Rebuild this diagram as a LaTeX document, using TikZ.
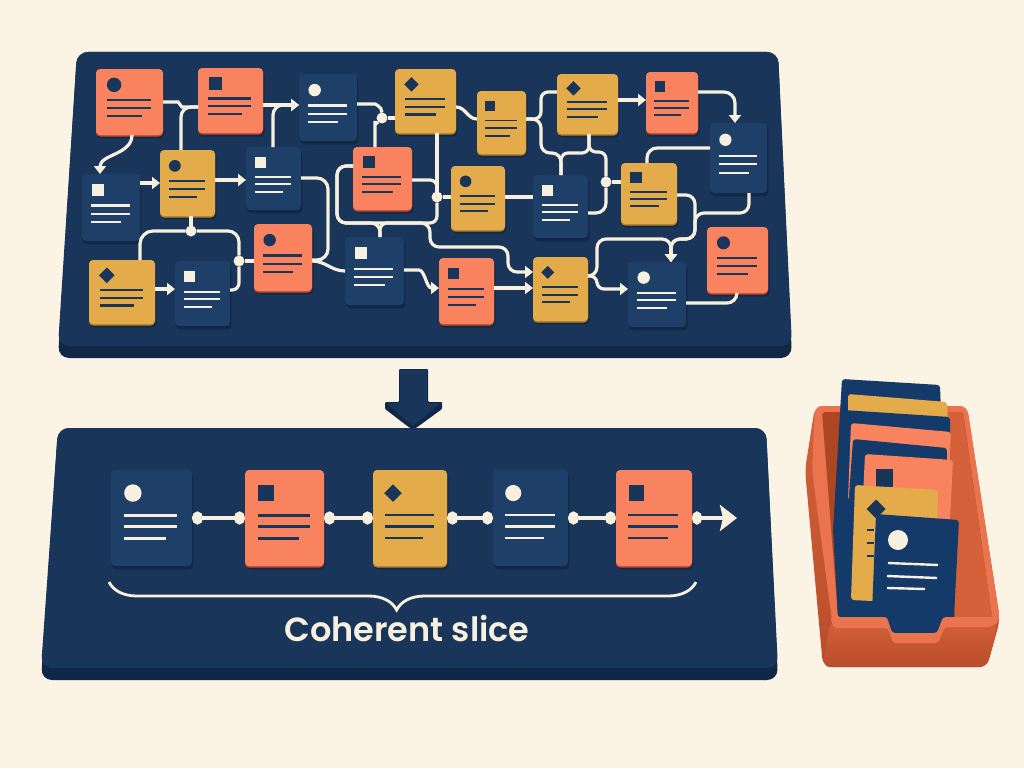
\documentclass[tikz,border=0pt]{standalone}
\usepackage{fontspec}
\newfontfamily\slicefont{Poppins SemiBold}
\usetikzlibrary{shapes.geometric,arrows.meta,shadows,decorations.pathreplacing}

\definecolor{paper}{HTML}{FBF3E4}
\definecolor{cream}{HTML}{F8F0DE}
\definecolor{panelnavy}{HTML}{19365A}
\definecolor{paneldark}{HTML}{102746}
\definecolor{navyfill}{HTML}{1D3F68}
\definecolor{navyedge}{HTML}{10264A}
\definecolor{redfill}{HTML}{F9835F}
\definecolor{rededge}{HTML}{C8482E}
\definecolor{yellowfill}{HTML}{E3AB49}
\definecolor{yellowedge}{HTML}{B5812A}
\definecolor{traynavy}{HTML}{133A69}
\definecolor{trayrim}{HTML}{EA7450}
\definecolor{trayface}{HTML}{D2603A}
\definecolor{traylow}{HTML}{B94D2A}
\definecolor{traywall}{HTML}{AD4722}
\definecolor{trayside}{HTML}{D5613B}
\colorlet{navyink}{cream}
\colorlet{redink}{panelnavy}
\colorlet{yellowink}{panelnavy}

\begin{document}
\begin{tikzpicture}[x=1pt,y=-1pt,
    card/.style={rectangle,inner sep=0pt,outer sep=0pt,rounded corners=4pt,
      general shadow={fill=black,opacity=.22,shadow xshift=1.5pt,shadow yshift=-3.5pt}},
    navycard/.style={card,fill=navyfill,general shadow={fill=navyedge,shadow yshift=-1.5pt}},
    redcard/.style={card,fill=redfill,general shadow={fill=rededge,shadow yshift=-1.5pt}},
    yellowcard/.style={card,fill=yellowfill,general shadow={fill=yellowedge,shadow yshift=-1.5pt}},
    glyph/.style={inner sep=0pt,outer sep=0pt},
    circlemark/.style={glyph,circle,minimum size=\marksize pt},
    squaremark/.style={glyph,rectangle,minimum size=.95*\marksize pt},
    diamondmark/.style={glyph,diamond,minimum size=1.1*\marksize pt},
    dot/.style={glyph,circle,fill=cream,minimum size=11pt},
    wire/.style={draw=cream,line width=3.2pt,rounded corners=7pt},
    wirearrow/.style={wire,-{Triangle[length=8pt,width=12pt]}},
    link/.style={wire,line width=3.6pt,{Circle[length=11pt,width=13pt]}-{Circle[length=11pt,width=13pt]}},
    traycard/.style={rounded corners=3pt}
]

\fill[paper] (0,0) rectangle (1024,768);

% Panels
\fill[paneldark,rounded corners=11pt] (77,52) -- (778,52) -- (792,358) -- (58,358) -- cycle;
\fill[panelnavy,rounded corners=11pt] (77,52) -- (778,52) -- (792,346) -- (58,346) -- cycle;
\fill[paneldark,rounded corners=11pt] (58,428) -- (766,428) -- (778,680) -- (41,680) -- cycle;
\fill[panelnavy,rounded corners=11pt] (58,428) -- (766,428) -- (778,668) -- (41,668) -- cycle;

% Block arrow between the panels
\fill[paneldark,rounded corners=1pt] (399,369) -- (428,369) -- (428,402) -- (442,402) -- (442,409) -- (416,428) -- (410,428) -- (385,409) -- (385,402) -- (399,402) -- cycle;
\fill[panelnavy] (400,370) -- (427,370) -- (427,403) -- (441,403) -- (413,426) -- (386,403) -- (400,403) -- cycle;

% Cards
\foreach \nm/\xa/\ya/\xb/\yb/\kind/\glyphshape in {
    a1/96/69/163/135/red/circle, a2/198/68/263/133/red/square, a3/299/74/357/141/navy/circle,
    a4/395/69/456/133/yellow/diamond, a5/477/91/526/154/yellow/square, a6/557/74/618/134/yellow/diamond,
    a7/646/72/698/133/red/square, a8/710/123/767/193/navy/circle,
    b1/82/174/140/241/navy/square, b2/160/150/215/216/yellow/circle, b3/246/147/301/210/navy/square,
    b4/353/147/412/210/red/square, b5/451/166/505/230/yellow/circle, b6/533/175/588/238/navy/square,
    b7/621/163/677/224/yellow/square,
    c1/89/260/155/324/yellow/diamond, c2/175/261/230/326/navy/square, c3/254/224/312/291/red/circle,
    c4/345/237/404/305/navy/square, c5/439/258/494/324/red/square, c6/533/257/588/321/yellow/diamond,
    c7/628/262/686/327/navy/circle, c8/707/227/768/293/red/circle,
    d1/111/470/192/566/navy/circle, d2/245/470/324/566/red/square, d3/373/470/447/566/yellow/diamond,
    d4/493/470/568/566/navy/circle, d5/616/470/692/566/red/square}{
  \pgfmathsetmacro\cardw{\xb-\xa}
  \pgfmathsetmacro\cardh{\yb-\ya}
  \pgfmathsetmacro\inkw{.035*\cardw}
  \pgfmathsetmacro\marksize{.215*\cardw}
  \node[\kind card,minimum width=\cardw pt,minimum height=\cardh pt] (\nm) at ({(\xa+\xb)/2},{(\ya+\yb)/2}) {};
  \begin{scope}[shift={(\xa,\ya)},x=\cardw pt,y=-\cardh pt]
    \node[\glyphshape mark,fill=\kind ink] (\nm-glyph) at (.27,.24) {};
    \draw[\kind ink,line width=\inkw pt] (.16,.47) -- (.82,.47) (.16,.59) -- (.82,.59) (.16,.71) -- (.68,.71);
  \end{scope}
}

% Junctions
\node[dot] (j1) at (382,118) {};
\node[dot] (j2) at (191,231) {};
\node[dot] (j3) at (239,261) {};
\node[dot] (j4) at (437,197) {};
\node[dot] (j5) at (606,182) {};

% Connections, left part
\draw[wire] (a1.east |- 0,102) -- (171,102) to[out=0,in=180] (189,107) -- (a2.west |- 0,107);
\draw[wire,rounded corners=10pt] (181,0 |- b2.north) |- (a2.west |- 0,107);
\draw[wirearrow] (a2.east |- 0,105) -- (a3.west |- 0,105);
\draw[wirearrow,rounded corners=10pt] (273,0 |- b3.north) |- (a3.west |- 0,105);
\draw[wire] (a3.east |- 0,104) -- (368,104) to[out=0,in=90] (j1);
\draw[wire] (j1) -- (a4.west |- j1);
\draw[wire] (375,0 |- b4.north) -- (375,128) to[out=90,in=225] (j1);
\draw[wirearrow] (132,0 |- a1.south) to[out=270,in=90] (100,0 |- b1.north);
\draw[wirearrow] (b1.east |- 0,183) -- (b2.west |- 0,183);
\draw[wirearrow] (b2.east |- 0,180) -- (b3.west |- 0,180);
\draw[wire] (191,0 |- b2.south) -- (j2);
\draw[wire,rounded corners=13pt] (j2) -| (140,0 |- c1.north);
\draw[wire,rounded corners=11pt] (j2) -| (j3);
\draw[wire] (j3) -- (c3.west |- j3);
\draw[wire] (j3) |- (c2.east |- 0,290);
\draw[wirearrow] (c1.east |- 0,289) -- (c2.west |- 0,289);
\draw[wire,rounded corners=11pt] (b3.east |- 0,178) -- (328,178) -- (328,260) -- (c3.east |- 0,260);
\draw[wire] (c3.east |- 0,261) to[out=0,in=180] (c4.west |- 0,271);
\draw[wire,rounded corners=9pt] (b4.west |- 0,166) -- (337,166) -- (337,223) -- (380,223) -- (380,0 |- c4.north);

% Connections, middle part
\draw[wirearrow,rounded corners=9pt] (b4.west |- 0,166) -- (337,166) -- (337,223) -- (430,223) -- (430,247) -- (508,247) -- (508,272) -- (c6.west |- 0,272);
\draw[wire] (b4.east |- 0,180) -- (437,180) -- (j4);
\draw[wire] (437,0 |- a4.south) -- (j4);
\draw[wire] (j4) -- (b5.west |- j4);
\draw[wire] (j4) -- (437,223) -- (380,223) -- (380,0 |- c4.north);
\draw[wirearrow] (c4.east |- 0,270) -- (412,270) to[out=0,in=180] (c5.west |- 0,288);
\draw[wirearrow] (c5.east |- 0,288) -- (c6.west |- 0,288);
\draw[wire] (a4.east |- 0,107) to[out=0,in=180] (a5.west |- 0,119);
\draw[wire] (b5.east |- 0,197) -- (b6.west |- 0,197);

% Connections, right part
\draw[wire] (a5.east |- 0,119) -- (541,119) -- (541,92) -- (a6.west |- 0,92);
\draw[wire,rounded corners=9pt] (a5.east |- 0,119) -- (541,119) -- (541,153) -- (561,153) -- (561,0 |- b6.north);
\draw[wire] (589,0 |- a6.south) -- (589,153) -- (561,153) -- (561,0 |- b6.north);
\draw[wire] (589,0 |- a6.south) -- (589,152) -- (606,152) -- (j5);
\draw[wire] (j5) -- (b7.west |- j5);
\draw[wire,rounded corners=10pt] (j5) |- (b6.east |- 0,213);
\draw[wirearrow] (a6.east |- 0,100) -- (a7.west |- 0,100);
\draw[wirearrow,rounded corners=11pt] (a7.east |- 0,92) -| (735,0 |- a8.north);
\draw[wire,rounded corners=10pt] (a8.west |- 0,148) -| (647,0 |- b7.north);
\draw[wirearrow,rounded corners=9pt] (b7.east |- 0,195) -- (695,195) -- (695,239) -- (671,239) -- (671,0 |- c7.north);
\draw[wirearrow,rounded corners=9pt] (749,0 |- a8.south) -- (749,213) -- (695,213) -- (695,239) -- (671,239) -- (671,0 |- c7.north);
\draw[wirearrow] (c6.east |- 0,276) -- (597,276) -- (597,289) -- (c7.west |- 0,289);
\draw[wirearrow,rounded corners=9pt] (c6.east |- 0,276) -- (597,276) -- (597,239) -- (671,239) -- (671,0 |- c7.north);
\draw[wire,rounded corners=10pt] (c7.east |- 0,303) -| (737,0 |- c8.south);

% Slice
\draw[link] (d1.east |- 0,518) -- (d2.west |- 0,518);
\draw[link] (d2.east |- 0,518) -- (d3.west |- 0,518);
\draw[link] (d3.east |- 0,518) -- (d4.west |- 0,518);
\draw[link] (d4.east |- 0,518) -- (d5.west |- 0,518);
\coordinate (sliceend) at (737,518);
\draw[wire,line width=3.8pt,{Circle[length=10pt,width=13pt]}-{Stealth[length=17pt,width=26pt,inset=3pt]}] (d5.east |- sliceend) -- (sliceend);
\coordinate (bracer) at (696,582);
\coordinate (bracel) at (109,582);
\draw[cream,line width=2.8pt,decorate,decoration={brace,amplitude=28pt,aspect=.51}] (bracer) -- (bracel);
\node[text=cream,font=\slicefont\fontsize{33.5}{38}\selectfont,inner sep=0pt] (slicelabel) at (407,629) {Coherent slice};

% Tray
\shade[top color=trayside,bottom color=traylow,rounded corners=9pt] (815,406) -- (967,406) -- (1000,620) -- (987,667) -- (823,667) -- (805,470) -- cycle;
\fill[trayrim,rounded corners=7pt] (815,406) -- (967,406) -- (1000,622) -- (990,628) -- (833,628) -- (812,470) -- cycle;
\fill[traywall,rounded corners=3pt] (822,412) -- (963,412) -- (992,617) -- (838,617) -- cycle;
\fill[trayside] (943,412) -- (963,412) -- (992,617) -- (955,617) -- cycle;

\fill[traynavy,traycard] (842,379) -- (940,385) -- (948,617) -- (838,617) -- (833,530) -- cycle;
\fill[yellowfill,traycard] (848,394) -- (947,402) -- (950,470) -- (848,470) -- cycle;
\fill[traynavy,traycard] (843,410) -- (950,417) -- (950,617) -- (838,617) -- (835,530) -- cycle;
\fill[redfill,traycard] (851,423) -- (951,432) -- (948,500) -- (848,500) -- cycle;
\fill[traynavy,traycard] (853,439) -- (947,448) -- (945,580) -- (843,582) -- cycle;
\fill[redfill,traycard] (865,454) -- (953,460) -- (948,560) -- (860,560) -- cycle;
\fill[panelnavy] (876,469) rectangle (893,487);
\fill[yellowfill,traycard] (855,485) -- (938,490) -- (936,604) -- (851,600) -- cycle;
\node[glyph,diamond,fill=panelnavy,minimum size=19pt] (traydiamond) at (876,509) {};
\draw[panelnavy,line width=2.2pt] (867,530) -- (874,530) (867,543) -- (874,543) (867,556) -- (874,556);
\fill[traynavy,traycard] (876,514) -- (959,520) -- (953,636) -- (871,636) -- cycle;
\node[glyph,circle,fill=cream,minimum size=20pt] (traycircle) at (898,540) {};
\draw[cream,line width=2.4pt] (888,563) -- (938,565) (887,576) -- (937,578) (887,588) -- (925,589);

% Tray front with its notch
\shade[top color=trayface,bottom color=traylow,rounded corners=7pt] (830,622) -- (888,622) -- (893,637) -- (937,637) -- (943,622) -- (998,622) -- (987,667) -- (823,667) -- cycle;
\fill[trayrim,rounded corners=3pt] (830,617) -- (887,617) -- (892,633) -- (937,633) -- (943,617) -- (998,617) -- (997,623) -- (990,627) -- (945,627) -- (938,643) -- (893,643) -- (888,628) -- (834,628) -- cycle;

\end{tikzpicture}
\end{document}
